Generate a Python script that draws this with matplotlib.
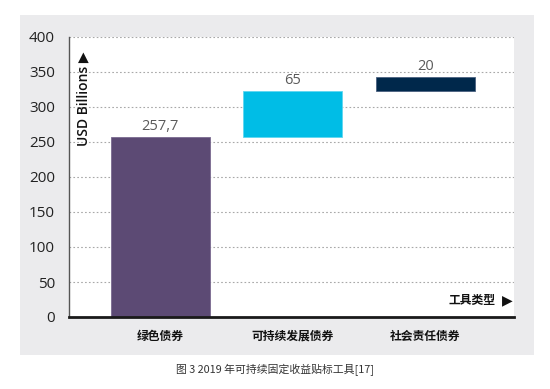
import matplotlib.pyplot as plt
from matplotlib.patches import Rectangle

# data
categories = ['绿色债券', '可持续发展债券', '社会责任债券']
values = [257.7, 65, 20]
value_labels = ['257,7', '65', '20']
colors = ['#5c4a74', '#00bde6', '#00284b']
yticks = [0, 50, 100, 150, 200, 250, 300, 350, 400]

plt.rcParams['font.family'] = ['Open Sans', 'Noto Sans CJK SC', 'DejaVu Sans']

fig = plt.figure(figsize=(5.5, 3.89), dpi=100)
fig.patch.set_facecolor('white')
# grey panel behind the chart
fig.patches.append(Rectangle((20 / 550, 1 - 355 / 389), 514 / 550, 340 / 389,
                             transform=fig.transFigure, facecolor='#ebebed',
                             edgecolor='none', zorder=-1))

ax = fig.add_axes([69 / 550, 1 - 317 / 389, 445 / 550, 280 / 389])
ax.set_facecolor('white')

# waterfall: each bar starts where the previous one ended
bottoms = []
acc = 0
for v in values:
    bottoms.append(acc)
    acc += v
x = list(range(len(categories)))
bars = ax.bar(x, values, bottom=bottoms, width=0.75, color=colors,
              edgecolor=['#7a6a90', '#5fd6f0', '#4a6080'], linewidth=0.6, zorder=3)

for xi, b, v, lab in zip(x, bottoms, values, value_labels):
    ax.text(xi, b + v + 4, lab, ha='center', va='bottom', fontsize=10.5,
            color='#5a5a5a', zorder=4)

ax.set_xlim(-0.69, 2.67)
ax.set_ylim(0, 400)
ax.set_yticks(yticks)
ax.set_yticklabels([str(t) for t in yticks], fontsize=11, color='#222222')
ax.set_xticks(x)
ax.set_xticklabels(categories, fontsize=8.5, fontweight='bold',
                   family=['Noto Sans CJK SC'], color='#111111')
ax.tick_params(axis='both', length=0)
ax.tick_params(axis='x', pad=9)
ax.tick_params(axis='y', pad=10)

ax.grid(axis='y', linestyle=(0, (1.5, 2)), color='#a8a8a8', linewidth=0.8, zorder=0)
ax.set_axisbelow(True)

for s in ['top', 'right']:
    ax.spines[s].set_visible(False)
ax.spines['left'].set_color('#555555')
ax.spines['left'].set_linewidth(1.0)
ax.spines['bottom'].set_color('#1a1a1a')
ax.spines['bottom'].set_linewidth(2.0)
ax.spines['bottom'].set_zorder(5)

# axis titles inside the plot
ax.text(0.032, 0.61, 'USD Billions \u25B6', transform=ax.transAxes, rotation=90,
        ha='center', va='bottom', fontsize=10, fontweight='semibold', color='#111111',
        family=['Open Sans', 'DejaVu Sans'])
ax.text(0.958, 0.06, '工具类型', transform=ax.transAxes, ha='right', va='center',
        fontsize=8.5, fontweight='bold', family=['Noto Sans CJK SC'], color='#111111')
ax.text(0.997, 0.06, '\u25B6', transform=ax.transAxes, ha='right', va='center',
        fontsize=10, family=['DejaVu Sans'], color='#111111')

fig.text(0.5, 1 - 370 / 389, '图 3 2019 年可持续固定收益贴标工具[17]', ha='center',
         va='center', fontsize=7.8, style='italic', color='#333333',
         family=['Noto Sans CJK SC', 'DejaVu Sans'])

fig.savefig('out.png', dpi=100)
